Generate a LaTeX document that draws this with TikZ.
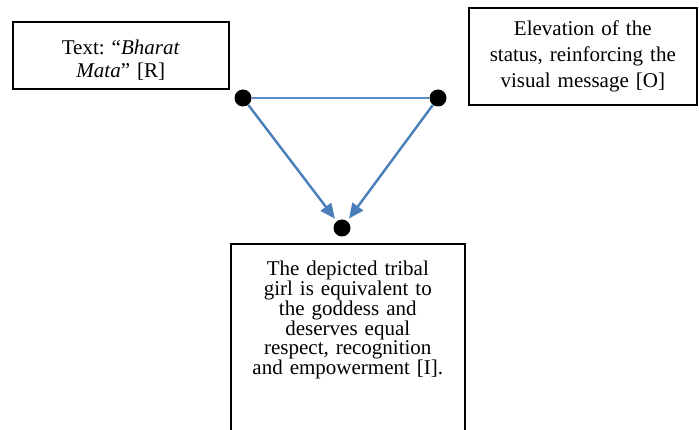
\documentclass[tikz,border=0pt]{standalone}
\usepackage{fontspec}
\setmainfont{Liberation Serif}
\usetikzlibrary{arrows.meta}
\definecolor{linkblue}{HTML}{4A7EBB}
\definecolor{lineblue}{HTML}{5B8BC9}

\begin{document}
\frenchspacing
\begin{tikzpicture}[x=1pt,y=-1pt,
  box/.style={draw=black,line width=1.6pt,inner xsep=0pt,inner ysep=0pt,align=center,anchor=north west},
  dot/.style={circle,fill=black,inner sep=0pt,minimum size=17pt},
  link/.style={draw=linkblue,line width=2.4pt,-{Triangle[length=15pt,width=13pt]},shorten >=3pt}]
\useasboundingbox (0,0) rectangle (699,430);

% the three boxes
\node[box,minimum width=216pt,text width=216pt,text height=33pt,text depth=34pt,
  font=\fontsize{21}{23}\selectfont] (Rbox) at (12,21) {Text: ``\textit{Bharat}\\ \textit{Mata}'' [R]};
\node[box,minimum width=228pt,text width=228pt,text height=28pt,text depth=69pt,
  font=\fontsize{21}{26}\selectfont] (Obox) at (468,7) {Elevation of the\\ status, reinforcing the\\ visual message [O]};
\node[box,minimum width=234pt,text width=234pt,text height=32pt,text depth=200pt,
  font=\fontsize{21}{19.8}\selectfont] (Ibox) at (230,243) {The depicted tribal\\ girl is equivalent to\\ the goddess and\\ deserves equal\\ respect, recognition\\ and empowerment [I].};

% the sign triangle
\node[dot] (r) at (243,98) {};
\node[dot] (o) at (438,98) {};
\node[dot] (i) at (342,228) {};
\draw[lineblue,line width=1.2pt] (r) -- (o);
\draw[link] (r) -- (i);
\draw[link] (o) -- (i);

\end{tikzpicture}
\end{document}
